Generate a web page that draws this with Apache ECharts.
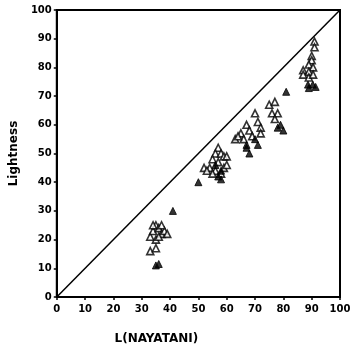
<!DOCTYPE html>
<html><head><meta charset="utf-8">
<script src="https://cdn.jsdelivr.net/npm/echarts@6/dist/echarts.min.js"></script>
<style>html,body{margin:0;padding:0;background:#fff}#c{width:357px;height:353px}</style>
</head><body><div id="c"></div>
<script>
const xTicks = [0,10,20,30,40,50,60,70,80,90,100];
const yTicks = [0,10,20,30,40,50,60,70,80,90,100];
const openPts = [
  [33,21],[34,23],[35,25],[36,24],[37,22],[38,23],[35,20],[36,21],[34,25],[37,25],[39,22],[33,16],[35,17],
  [57,52],[56,50],[58,50],[59,49],[60,49],[55,48],[57,47],[52,45],[54,45],[56,44],[53,44],[59,45],[58,43],[55,43],[60,46],
  [70,64],[67,60],[71,61],[72,59],[65,57],[68,58],[72,57],[63,55],[66,55],[64,56],[69,56],
  [75,67],[77,68],[76,64],[78,64],[77,62],
  [91,89],[91,87],[90,84],[90,82.5],[89,81],[90.5,80],[87,79],[89,78.5],[87,77.5],[89,76.5],[90.5,77.5]
];
const filledPts = [
  [35,11],[36,11.5],[41,30],
  [50,40],[58,41],[57,42],[56,46],[58,44],
  [70,55],[67,53],[68,50],[67,52],[71,53],
  [79,60],[80,58],[78,59],[81,71.5],
  [88.7,74],[90.4,74],[91.4,73.2],[89,72.8]
];
const diagonal = [[0,0],[100,100]];

const chart = echarts.init(document.getElementById('c'), null, {renderer:'canvas'});
const font = 'DejaVu Sans';
chart.setOption({
  animation:false,
  grid:{left:48, top:10, right:17, bottom:56, show:true, borderColor:'#000', borderWidth:2, backgroundColor:'transparent'},
  xAxis:{type:'value', min:0, max:100, interval:10,
    name:'L(NAYATANI)', nameLocation:'middle', nameGap:36,
    nameTextStyle:{fontFamily:font, fontWeight:'bold', fontSize:12, color:'#000', padding:[0,84,0,0]},
    axisLine:{lineStyle:{color:'#000', width:2}},
    axisTick:{show:true, length:3, lineStyle:{color:'#000', width:1.5}},
    axisLabel:{fontFamily:font, fontWeight:'bold', fontSize:10, color:'#000', margin:7,
      formatter:v=> xTicks.includes(v) ? String(v) : ''},
    splitLine:{show:false}},
  yAxis:{type:'value', min:0, max:100, interval:10,
    name:'Lightness', nameLocation:'middle', nameGap:30, nameRotate:90,
    nameTextStyle:{fontFamily:font, fontWeight:'bold', fontSize:12, color:'#000'},
    axisLine:{lineStyle:{color:'#000', width:2}},
    axisTick:{show:true, length:3, lineStyle:{color:'#000', width:1.5}},
    axisLabel:{fontFamily:font, fontWeight:'bold', fontSize:10, color:'#000', margin:5,
      formatter:v=> yTicks.includes(v) ? String(v) : ''},
    splitLine:{show:false}},
  series:[
    {type:'line', data:diagonal, showSymbol:false, symbol:'none', lineStyle:{color:'#000', width:1.5}, z:1},
    {type:'scatter', data:openPts, symbol:'triangle', symbolSize:7,
      itemStyle:{color:'#fff', borderColor:'#000', borderWidth:1.6}, z:3},
    {type:'scatter', data:filledPts, symbol:'triangle', symbolSize:7,
      itemStyle:{color:'#000', borderColor:'#000', borderWidth:1}, z:4}
  ]
});
</script></body></html>
